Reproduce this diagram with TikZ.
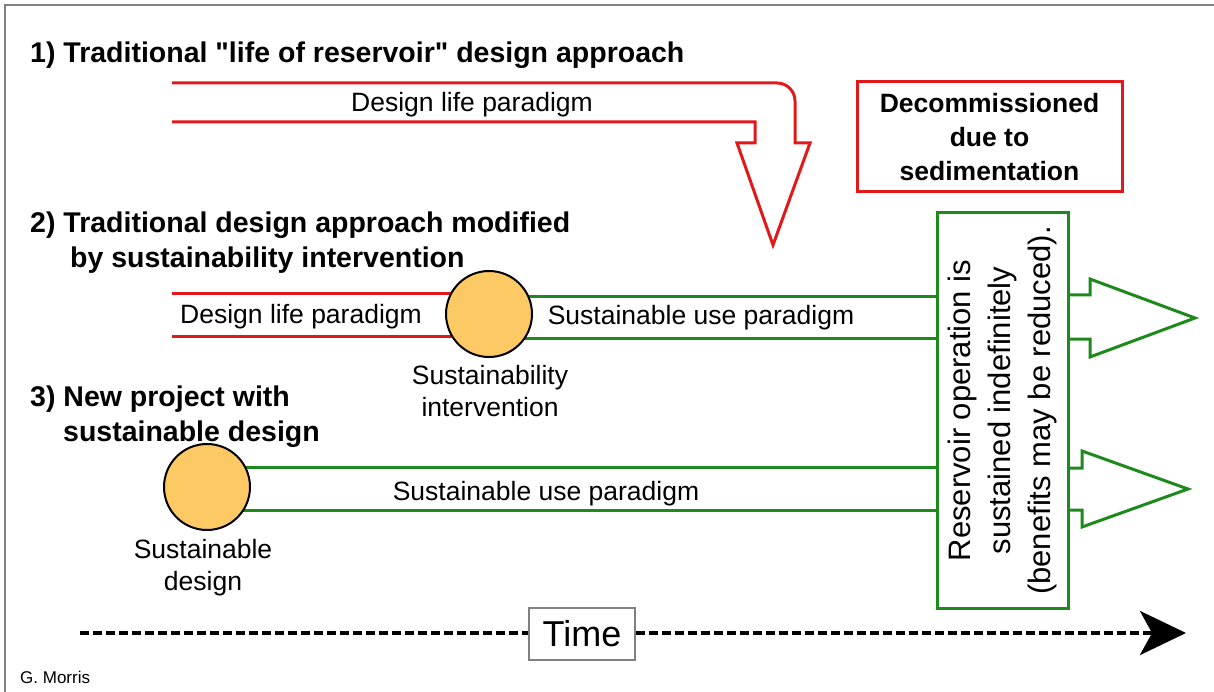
\documentclass[tikz,border=0pt]{standalone}
\usepackage{fontspec}
\setmainfont{Liberation Sans}[Ligatures=TeXOff]
\usetikzlibrary{arrows.meta,backgrounds}
\definecolor{dred}{HTML}{E2191B}
\definecolor{dgreen}{HTML}{1E8A1E}
\definecolor{dorange}{HTML}{FDC964}
\tikzset{
  redline/.style={draw=dred,line width=3pt,line join=miter},
  greenline/.style={draw=dgreen,line width=3pt,line join=miter},
  title/.style={font=\fontsize{28.5}{35}\selectfont\bfseries,anchor=west,inner sep=0pt},
  lbl/.style={font=\fontsize{26.5}{32}\selectfont,inner sep=0pt,align=center},
  dot/.style={circle,draw=black,line width=2pt,fill=dorange,minimum size=86pt,inner sep=0pt},
}
\begin{document}
\begin{tikzpicture}[x=1pt,y=-1pt]
\useasboundingbox (0,0) rectangle (1214,692);
\draw[gray,line width=2pt] (5,692) -- (5,5) -- (1214,5);

% titles
\node[title] (t1) at (30,55) {1) Traditional "life of reservoir" design approach};
\node[title] (t2a) at (30,225) {2) Traditional design approach modified};
\node[title] (t2b) at (70,260) {by sustainability intervention};
\node[title] (t3a) at (30,399) {3) New project with};
\node[title] (t3b) at (63,434) {sustainable design};

% path 1
\draw[redline] (172,83) -- (777,83) arc (270:360:18) -- (795,143) -- (810,143)
  -- (773,245) -- (737,143) -- (755,143) -- (755,122) -- (172,122);
\node[lbl] (l1) at (472,105) {Design life paradigm};

\node[lbl,draw=dred,line width=3pt,font=\fontsize{26.5}{34}\selectfont\bfseries,
  minimum width=265pt,minimum height=110pt] (dec) at (989.5,137) {Decommissioned\\due to\\sedimentation};

% box
\node[draw=dgreen,line width=3pt,minimum width=131pt,minimum height=395pt,inner sep=0pt] (box) at (1002.5,410.5) {};
\node[lbl,rotate=90,font=\fontsize{31}{40}\selectfont] (boxt) at (box.center)
  {Reservoir operation is\\sustained indefinitely\\(benefits may be reduced).};

% path 2
\node[dot] (c2) at (489,314) {};
\begin{scope}[on background layer]
\draw[redline] (172,294) -- (c2.center |- 0,294);
\draw[redline] (172,336) -- (c2.center |- 0,336);
\draw[greenline] (c2.center |- 0,297) -- (box.west |- 0,297);
\draw[greenline] (c2.center |- 0,338) -- (box.west |- 0,338);
\end{scope}
\node[lbl] (l2a) at (301,317) {Design life paradigm};
\node[lbl] (l2b) at (701,318) {Sustainable use paradigm};
\node[lbl] (l2c) at (490,391) {Sustainability\\intervention};
\draw[greenline] (box.east |- 0,295) -- (1090,295) -- (1090,279) -- (1195,318) -- (1090,357) -- (1090,339) -- (box.east |- 0,339);

% path 3
\node[dot] (c3) at (207,487) {};
\begin{scope}[on background layer]
\draw[greenline] (c3.center |- 0,467) -- (box.west |- 0,467);
\draw[greenline] (c3.center |- 0,510) -- (box.west |- 0,510);
\end{scope}
\node[lbl] (l3a) at (546,494) {Sustainable use paradigm};
\node[lbl] (l3b) at (203,568) {Sustainable\\design};
\draw[greenline] (box.east |- 0,468) -- (1082,468) -- (1082,451) -- (1188,489) -- (1082,527) -- (1082,510) -- (box.east |- 0,510);

% time
\node[draw=gray,line width=1.5pt,minimum width=106pt,minimum height=52pt,inner sep=0pt,
  font=\fontsize{36}{40}\selectfont] (time) at (582,634) {Time};
\coordinate (ts) at (80,633);
\coordinate (te) at (1186,633);
\draw[line width=4pt,dash pattern=on 9pt off 4pt] (ts) -- (time.west |- ts);
\draw[line width=4pt,dash pattern=on 9pt off 4pt,-{Stealth[length=46pt,width=44pt,inset=12pt]}] (time.east |- te) -- (te);

\node[font=\fontsize{17}{20}\selectfont,anchor=west,inner sep=0pt] (gm) at (20,677) {G. Morris};
\end{tikzpicture}
\end{document}
